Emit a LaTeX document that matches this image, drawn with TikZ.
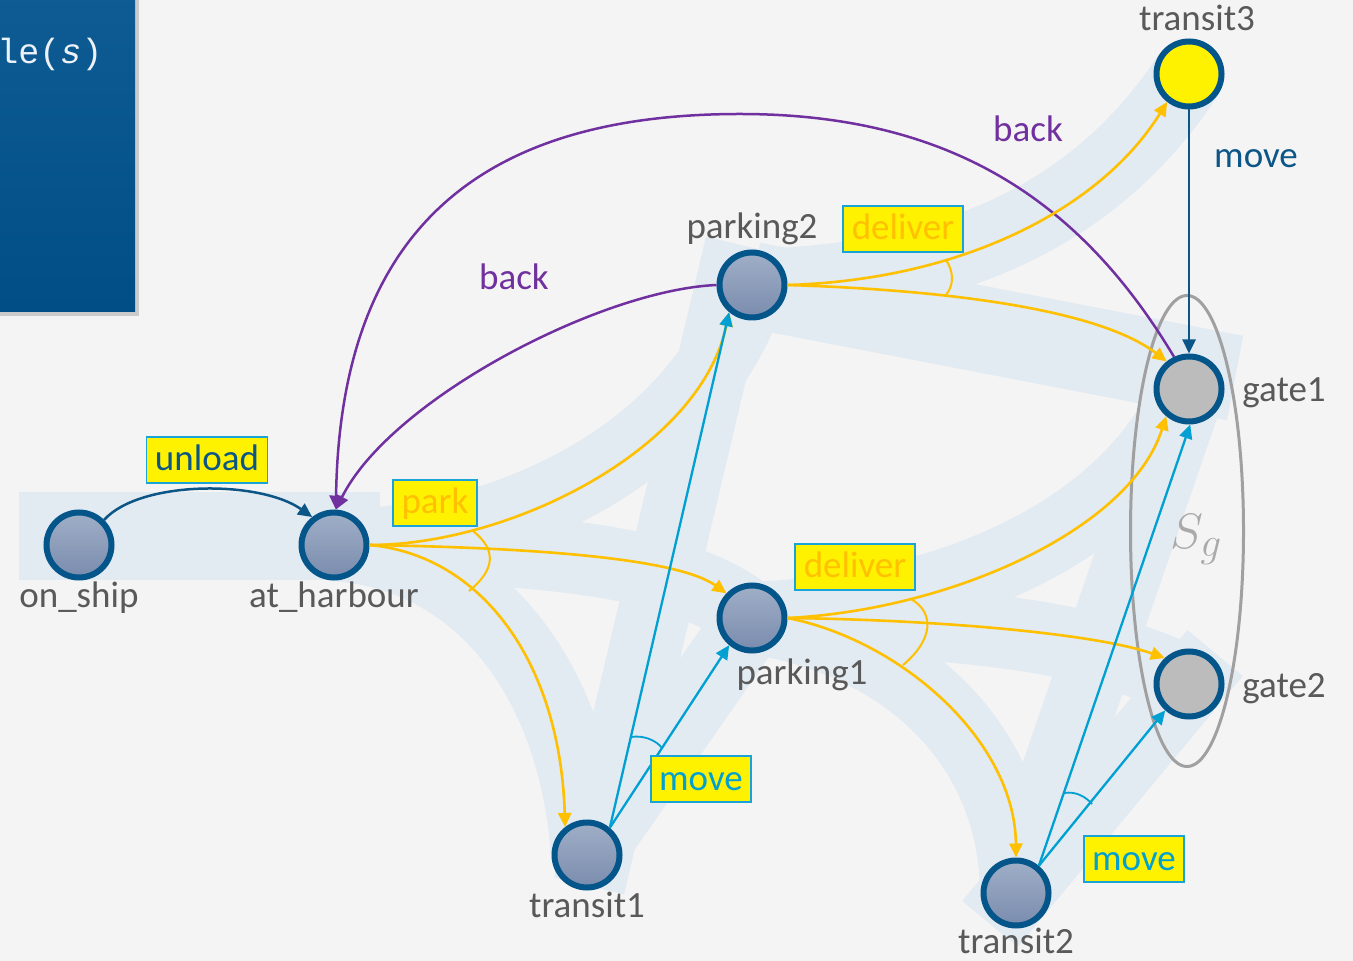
\documentclass[tikz,border=0pt]{standalone}
\usepackage{fontspec}
\setmainfont{Carlito}
\newfontfamily\monof{Liberation Mono}
\usetikzlibrary{arrows.meta,shapes.geometric,shadows,backgrounds}
\definecolor{bgc}{HTML}{F4F4F4}
\definecolor{bandc}{HTML}{E2EAF2}
\definecolor{panelt}{HTML}{0F5C95}
\definecolor{panelb}{HTML}{004E85}
\definecolor{nodeb}{HTML}{03558A}
\definecolor{nft}{HTML}{A0AFC7}
\definecolor{nfb}{HTML}{7A8CAE}
\definecolor{gatef}{HTML}{BCBCBC}
\definecolor{labc}{HTML}{595959}
\definecolor{yel}{HTML}{FFC000}
\definecolor{cyc}{HTML}{00A0D2}
\definecolor{pur}{HTML}{7030A0}
\definecolor{dkb}{HTML}{0B5587}
\definecolor{boxb}{HTML}{1AA3D6}
\definecolor{sgc}{HTML}{A0A0A0}
\newcommand{\lblfont}{\fontsize{18.5pt}{22pt}\selectfont}
\begin{document}
\begin{tikzpicture}[x=0.5pt,y=-0.5pt,
  nodebase/.style={circle,draw=nodeb,line width=3pt,minimum size=32.5pt,inner sep=0pt},
  stn/.style={nodebase,top color=nft,bottom color=nfb},
  gatenode/.style={nodebase,fill=gatef},
  goalnode/.style={nodebase,fill=yellow},
  lbl/.style={text=labc,font=\lblfont,inner sep=0pt,anchor=base},
  lblbox/.style={draw=boxb,line width=0.9pt,fill=yellow,inner xsep=4.2pt,inner ysep=0pt,
     minimum height=23pt,text height=13pt,text depth=2pt,font=\lblfont},
  tip/.style={-{Triangle[length=7pt,width=6.5pt]}},
  yedge/.style={draw=yel,line width=1.3pt,tip},
  cedge/.style={draw=cyc,line width=1.15pt,tip},
  pedge/.style={draw=pur,line width=1.25pt,tip},
  dedge/.style={draw=dkb,line width=1.25pt,tip},
  ythin/.style={draw=yel,line width=1pt},
  cthin/.style={draw=cyc,line width=0.9pt},
  band/.style={draw=bandc,line width=36pt,line cap=butt}
]
\useasboundingbox (0,0) rectangle (1353,961);

% goal set ellipse
\node[ellipse,draw=sgc,line width=1.5pt,minimum width=56.5pt,minimum height=235.5pt,inner sep=0pt] (sg) at (1187,531) {};
\node[text=sgc!90!white,anchor=base west,inner sep=0pt] (sglabel) at (1170,549) {\fontsize{29pt}{34pt}\selectfont$S_g$};

% states
\node[stn] (onship) at (79,545) {};
\node[stn] (harbour) at (334,545) {};
\node[stn] (park2) at (752,285) {};
\node[stn] (park1) at (752,618) {};
\node[stn] (tr1) at (587,855) {};
\node[stn] (tr2) at (1016,893) {};
\node[goalnode] (tr3) at (1189,74) {};
\node[gatenode] (g1) at (1189,389) {};
\node[gatenode] (g2) at (1189,684) {};

% state names
\node[lbl] (t-onship) at (79,607) {on\_ship};
\node[lbl] (t-harbour) at (334,607) {at\_harbour};
\node[lbl] (t-park2) at (752,239) {parking2};
\node[lbl] (t-park1) at (802,684) {parking1};
\node[lbl] (t-tr1) at (587,917) {transit1};
\node[lbl] (t-tr2) at (1016,953) {transit2};
\node[lbl] (t-tr3) at (1197,31) {transit3};
\node[lbl,anchor=base west] (t-g1) at (1242,402) {gate1};
\node[lbl,anchor=base west] (t-g2) at (1242,697) {gate2};

% background layer: page, panel, road bands
\begin{scope}[on background layer]
  \fill[bgc] (0,0) rectangle (1353,961);
  \fill[top color=panelt,bottom color=panelb,
        drop shadow={shadow xshift=2pt,shadow yshift=-2pt,opacity=0.35}] (-10,-10) rectangle (135,312);
  \fill[bandc] (19,492) rectangle (380,580);
  \draw[band] (harbour.center) .. controls (510,545) and (700,450) .. (park2.center);
  \draw[band] (harbour.center) .. controls (550,548) and (680,560) .. (park1.center);
  \draw[band] (harbour.center) .. controls (480,555) and (575,680) .. (tr1.center);
  \draw[band] (741,245) -- (589,886);
  \draw[band] (tr1.center) -- (park1.center);
  \draw[band] (park2.center) .. controls (960,280) and (1100,210) .. (tr3.center);
  \draw[band,line width=43pt] (park2.center) -- (1235,378);
  \draw[band] (park1.center) .. controls (950,610) and (1130,530) .. (g1.center);
  \draw[band] (park1.center) .. controls (950,620) and (1100,635) .. (g2.center);
  \draw[band] (park1.center) .. controls (900,640) and (1015,740) .. (tr2.center);
  \draw[band] (tr2.center) -- (1202,351);
  \draw[band] (990,924) -- (1215,653);
\end{scope}

% panel text
\node[anchor=base west,inner sep=0pt,text=white!92!panelt] (code) at (-3,64)
  {\monof\fontsize{17.5pt}{20pt}\selectfont le(\textit{s})};

% transitions
\draw[dedge] (onship.45) .. controls (140,480) and (260,480) .. (harbour.128);
\draw[pedge] (park2.west) .. controls (600,290) and (390,400) .. (harbour.87);
\draw[pedge] (g1.115) .. controls (1080,200) and (950,114) .. (740,114)
   .. controls (480,114) and (340,230) .. (harbour.87);

\draw[yedge] (harbour.east) .. controls (510,545) and (700,450) .. (park2.230);
\draw[yedge] (harbour.east) .. controls (550,548) and (680,560) .. (park1.136);
\draw[yedge] (harbour.east) .. controls (480,555) and (560,660) .. (tr1.128);
\draw[yedge] (park2.east) .. controls (960,280) and (1100,210) .. (tr3.232);
\draw[yedge] (park2.east) .. controls (950,290) and (1100,310) .. (g1.129);
\draw[yedge] (park1.east) .. controls (950,610) and (1130,530) .. (g1.230);
\draw[yedge] (park1.east) .. controls (950,620) and (1100,635) .. (g2.133);
\draw[yedge] (park1.east) .. controls (900,640) and (1015,740) .. (tr2.north);

\draw[cedge] (tr1.50) -- (park2.230);
\draw[cedge] (tr1.50) -- (park1.230);
\draw[cedge] (tr2.50) -- (g1.272);
\draw[cedge] (tr2.50) -- (g2.228);

\draw[dedge] (tr3.south) -- (g1.north);

% hyperedge arcs
\draw[ythin] (473,531) .. controls (497,550) and (495,570) .. (469,591);
\draw[ythin] (946,260) .. controls (954,272) and (954,285) .. (946,295);
\draw[ythin] (911,599) .. controls (935,613) and (933,640) .. (903,665);
\draw[cthin] (631,737) .. controls (643,735) and (656,740) .. (662,748);
\draw[cthin] (1064,793) .. controls (1076,791) and (1086,797) .. (1092,804);

% action labels
\node[lblbox,text=dkb] (a-unload) at (207,460) {unload};
\node[lblbox,text=yel] (a-park) at (435,503) {park};
\node[lblbox,text=yel] (a-del2) at (903,229) {deliver};
\node[lblbox,text=yel] (a-del1) at (855,567) {deliver};
\node[lblbox,text=cyc] (a-mv1) at (701,779) {move};
\node[lblbox,text=cyc] (a-mv2) at (1134,859) {move};
\node[lbl,text=pur] (a-back1) at (514,290) {back};
\node[lbl,text=pur] (a-back2) at (1028,142) {back};
\node[lbl,text=dkb] (a-mv3) at (1256,168) {move};
\end{tikzpicture}
\end{document}
